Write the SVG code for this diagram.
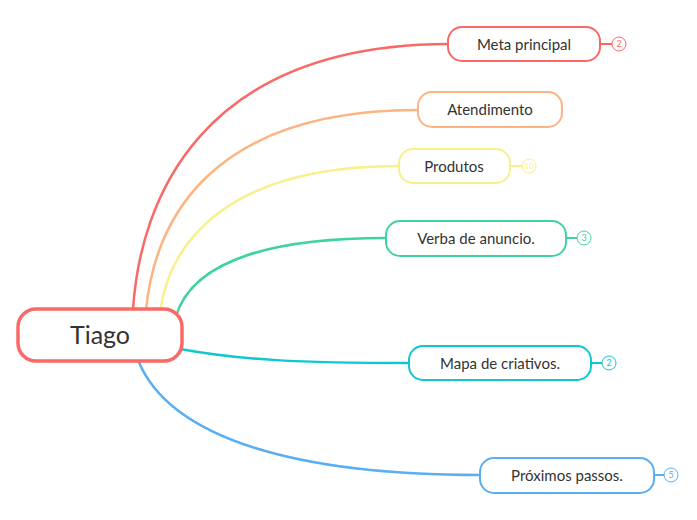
<svg xmlns="http://www.w3.org/2000/svg" width="697" height="520" viewBox="0 0 697 520">
<style>
text{font-family:"Lato","Liberation Sans",sans-serif;fill:#333}
.n{fill:#fff;stroke-width:2}
.l{fill:none;stroke-width:2.5}
.b{fill:#fff;stroke-width:1}
.bt{font-size:9px;text-anchor:middle}
.t{font-size:15px;text-anchor:middle}
</style>
<rect width="697" height="520" fill="#fff"/>
<g id="connectors">
<path class="l" stroke="#f96a66" d="M133,310 C140,200 200,45 448,44"/>
<path class="l" stroke="#fdb382" d="M146,310 C155,220 210,110 418,110"/>
<path class="l" stroke="#f9f08c" d="M160,312 C170,240 230,166 399,166"/>
<path class="l" stroke="#3ed3a0" d="M176,316 C190,270 250,238 386,238"/>
<path class="l" stroke="#10c6d0" d="M180,349 C240,360 300,363 409,363"/>
<path class="l" stroke="#5aaef2" d="M138,360 C170,440 300,475 480,475"/>
<path stroke="#f96a66" stroke-width="2" d="M600,44H612"/>
<path stroke="#f9f08c" stroke-width="2" d="M510,166H522"/>
<path stroke="#3ed3a0" stroke-width="2" d="M566,238H577"/>
<path stroke="#10c6d0" stroke-width="2" d="M591,363H602"/>
<path stroke="#5aaef2" stroke-width="2" d="M654,475H664"/>
</g>
<g id="root"><rect x="18" y="309" width="164" height="52" rx="18" fill="#fff" stroke="#f96a66" stroke-width="3.5"/><text x="100" y="344" font-size="25" text-anchor="middle">Tiago</text></g>
<g id="n1"><rect class="n" x="448" y="27" width="152" height="34" rx="14" stroke="#f96a66"/><text class="t" x="524" y="50">Meta principal</text><circle class="b" cx="619" cy="44" r="7" stroke="#f96a66"/><text class="bt" x="619" y="47" style="fill:#f96a66">2</text></g>
<g id="n2"><rect class="n" x="418" y="92" width="144" height="35" rx="14" stroke="#fdb382"/><text class="t" x="490" y="115">Atendimento</text></g>
<g id="n3"><rect class="n" x="399" y="149" width="111" height="34" rx="14" stroke="#f9f08c"/><text class="t" x="454" y="172">Produtos</text><circle class="b" cx="529" cy="166" r="7" stroke="#f9f08c"/><text class="bt" x="529" y="169" style="fill:#f9f08c;font-size:8px">10</text></g>
<g id="n4"><rect class="n" x="386" y="221" width="180" height="35" rx="14" stroke="#3ed3a0"/><text class="t" x="476" y="244">Verba de anuncio.</text><circle class="b" cx="584" cy="238" r="7" stroke="#3ed3a0"/><text class="bt" x="584" y="241" style="fill:#3ed3a0">3</text></g>
<g id="n5"><rect class="n" x="409" y="346" width="182" height="34" rx="14" stroke="#10c6d0"/><text class="t" x="500" y="369">Mapa de criativos.</text><circle class="b" cx="609" cy="363" r="7" stroke="#10c6d0"/><text class="bt" x="609" y="366" style="fill:#10c6d0">2</text></g>
<g id="n6"><rect class="n" x="480" y="458" width="174" height="35" rx="14" stroke="#5aaef2"/><text class="t" x="567" y="481">Próximos passos.</text><circle class="b" cx="671" cy="475" r="7" stroke="#5aaef2"/><text class="bt" x="671" y="478" style="fill:#5aaef2">5</text></g>
</svg>
